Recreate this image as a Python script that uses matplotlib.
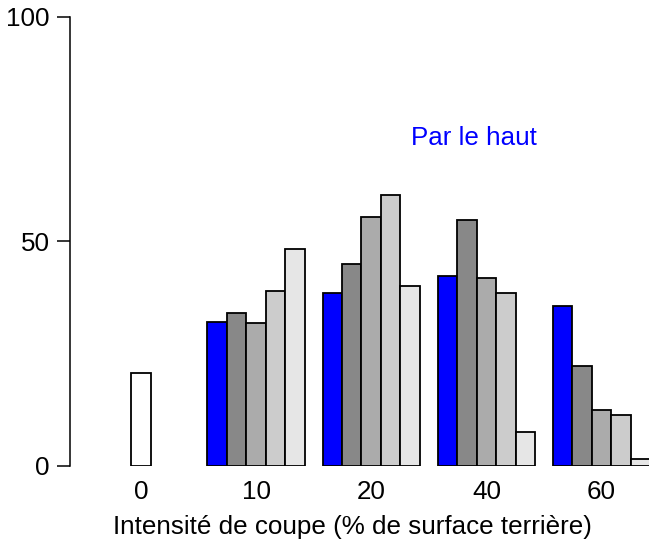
import matplotlib
matplotlib.use("Agg")
import matplotlib.pyplot as plt
import numpy as np

plt.rcParams['font.family'] = ['Liberation Sans', 'DejaVu Sans']

categories = ["0", "10", "20", "40", "60"]
control_value = 20.6
series_values = [
    [32.0, 38.6, 42.3, 35.5],   # blue
    [34.0, 45.0, 54.8, 22.3],
    [31.9, 55.4, 41.8, 12.4],
    [38.9, 60.4, 38.6, 11.2],
    [48.3, 40.0, 7.4, 1.4],
]
series_colors = ["#0000FF", "#888888", "#ABABAB", "#CCCCCC", "#E6E6E6"]
y_ticks = [0, 50, 100]
annotation = "Par le haut"
xlabel = "Intensité de coupe (% de surface terrière)"

W, H = 649, 541
FS = 18.7
fig = plt.figure(figsize=(W / 100, H / 100), dpi=100)
ax_left, ax_bottom_px, ax_top_px = 70, 465.7, 17
ax = fig.add_axes([ax_left / W, (H - ax_bottom_px) / H, (W - ax_left) / W,
                   (ax_bottom_px - ax_top_px) / H])

bw = 0.169
lw = 1.3
ax.bar(0, control_value, width=bw, color="white", edgecolor="black",
       linewidth=lw, zorder=2)
groups = np.arange(1, len(categories))
for j, (vals, col) in enumerate(zip(series_values, series_colors)):
    ax.bar(groups + (j - 2) * bw, vals, width=bw, color=col, edgecolor="black",
           linewidth=lw, zorder=2, clip_on=True)

ax.set_xlim(-0.6146, (W - 140.8) / 115.2)
ax.set_ylim(0, 100)

for s in ["top", "right", "bottom"]:
    ax.spines[s].set_visible(False)
ax.spines["left"].set_bounds(0, 100)
ax.spines["left"].set_linewidth(1.1)

ax.set_yticks(y_ticks)
ax.set_yticklabels([str(t) for t in y_ticks], fontsize=FS)
ax.tick_params(axis="y", length=9.4, width=1.1, pad=5)
ax.set_xticks(np.arange(len(categories)))
ax.set_xticklabels(categories, fontsize=FS)
ax.tick_params(axis="x", length=0, pad=10)

fig.text(352 / W, (H - 534) / H, xlabel, fontsize=FS, ha="center",
         va="baseline")

fig.text(474 / W, (H - 138) / H, annotation, color="#0000FF", fontsize=FS,
         ha="center", va="center")

fig.savefig("out.png", dpi=100)
